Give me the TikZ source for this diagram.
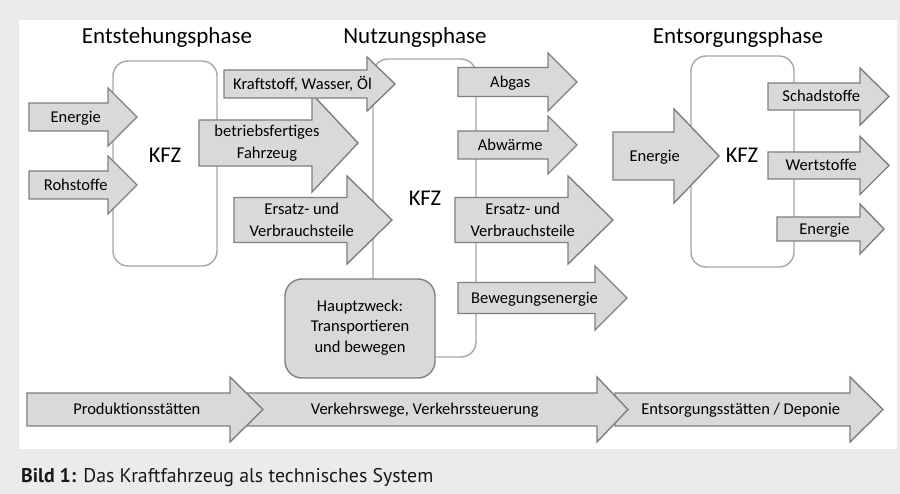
\documentclass[tikz,border=0pt]{standalone}
\usepackage{fontspec}
\setmainfont{Carlito}
\newfontfamily\capfont{PT Sans}
\definecolor{bg}{HTML}{EBEBEB}
\definecolor{afill}{HTML}{D9D9D9}
\definecolor{aline}{HTML}{7F7F7F}
\definecolor{bline}{HTML}{A6A6A6}
\tikzset{
  arr/.style={draw=aline, fill=afill, line width=1.4pt, line join=miter},
  kbox/.style={draw=bline, line width=1.4pt, rounded corners=15pt},
  hbox/.style={draw=aline, fill=afill, line width=1.4pt, rounded corners=17pt},
  lab/.style={font=\fontsize{16.5}{22}\selectfont, inner sep=0pt, text height=10.6pt, text depth=0pt},
  labm/.style={font=\fontsize{16.5}{22}\selectfont, inner sep=0pt, align=center},
  head/.style={font=\fontsize{23}{27}\selectfont, inner sep=0pt, anchor=base},
  kfz/.style={font=\fontsize{22.5}{27}\selectfont, inner sep=0pt, anchor=base},
}
% #1 name, #2 x0, #3 head start, #4 tip, #5 centre y, #6 half body, #7 half head, #8 style, #9 text
\newcommand\barrow[9]{%
  \draw[arr] (#2,#5-#6) -- (#3,#5-#6) -- (#3,#5-#7) -- (#4,#5) -- (#3,#5+#7) -- (#3,#5+#6) -- (#2,#5+#6) -- cycle;
  \node[#8] (#1) at ({(#2+(#3+#4)/2)/2},#5) {#9};
}
\begin{document}
\begin{tikzpicture}[x=1pt,y=-1pt]
\useasboundingbox (0,0) rectangle (900,494);
\fill[bg] (0,0) rectangle (900,494);
\fill[white] (19,20) rectangle (897,449);

% phase headers
\node[head] (h1) at (167,43.5) {Entstehungsphase};
\node[head] (h2) at (415,43.5) {Nutzungsphase};
\node[head] (h3) at (738,43.5) {Entsorgungsphase};

% KFZ boxes
\draw[kbox] (113,61) rectangle (217,266);
\draw[kbox] (373,59) rectangle (476,357);
\draw[kbox] (691,56) rectangle (794,267);
\node[kfz] (k1) at (165,162.5) {KFZ};
\node[kfz] (k2) at (425,206) {KFZ};
\node[kfz] (k3) at (742,162.5) {KFZ};

% main purpose
\draw[hbox] (285,279) rectangle (435,378);
\node[labm, font=\fontsize{16.5}{20.5}\selectfont] (hz) at (360,327.5) {Hauptzweck:\\Transportieren\\und bewegen};

% Entstehungsphase inputs
\barrow{e1}{29}{108}{137}{117}{14}{29}{lab}{Energie}
\barrow{e2}{29}{108}{137}{185}{14}{29}{lab}{Rohstoffe}

% Nutzungsphase inputs
\barrow{n2}{199}{312}{358}{143}{23}{49}{labm}{betriebsfertiges\\Fahrzeug}
\barrow{n1}{224}{367}{395}{84}{14}{27}{lab}{Kraftstoff, Wasser, Öl}
\barrow{n3}{234}{347}{392}{220}{22.5}{44}{labm}{Ersatz- und\\Verbrauchsteile}

% Nutzungsphase outputs
\barrow{o1}{458}{548}{577}{82}{14.5}{29}{lab}{Abgas}
\barrow{o2}{458}{548}{577}{145}{14}{29}{lab}{Abwärme}
\barrow{o3}{455}{568}{613}{220}{22.5}{44}{labm}{Ersatz- und\\Verbrauchsteile}
\barrow{o4}{458}{595}{627}{298}{15.5}{32}{lab}{Bewegungsenergie}

% Entsorgungsphase
\barrow{d1}{613}{674}{719}{156}{24}{47}{lab}{Energie}
\barrow{d2}{768}{860}{889}{96.5}{13.5}{28.5}{lab}{Schadstoffe}
\barrow{d3}{768}{860}{889}{165.5}{13.5}{29}{lab}{Wertstoffe}
\barrow{d4}{777}{860}{884}{229}{12}{25}{lab}{Energie}

% bottom places
\barrow{p3}{615}{850}{883}{409.5}{16.5}{32.5}{lab}{Entsorgungsstätten / Deponie}
\barrow{p2}{237}{597}{628}{409.5}{16.5}{32.5}{lab}{Verkehrswege, Verkehrssteuerung}
\barrow{p1}{27}{230}{263}{409.5}{16.5}{32.5}{lab}{Produktionsstätten}

% caption
\node[anchor=base west, inner sep=0pt, font=\capfont\fontsize{19.8}{23}\selectfont, text=black!90] (cap) at (21,482.5) {\textbf{Bild 1:} Das Kraftfahrzeug als technisches System};
\end{tikzpicture}
\end{document}
